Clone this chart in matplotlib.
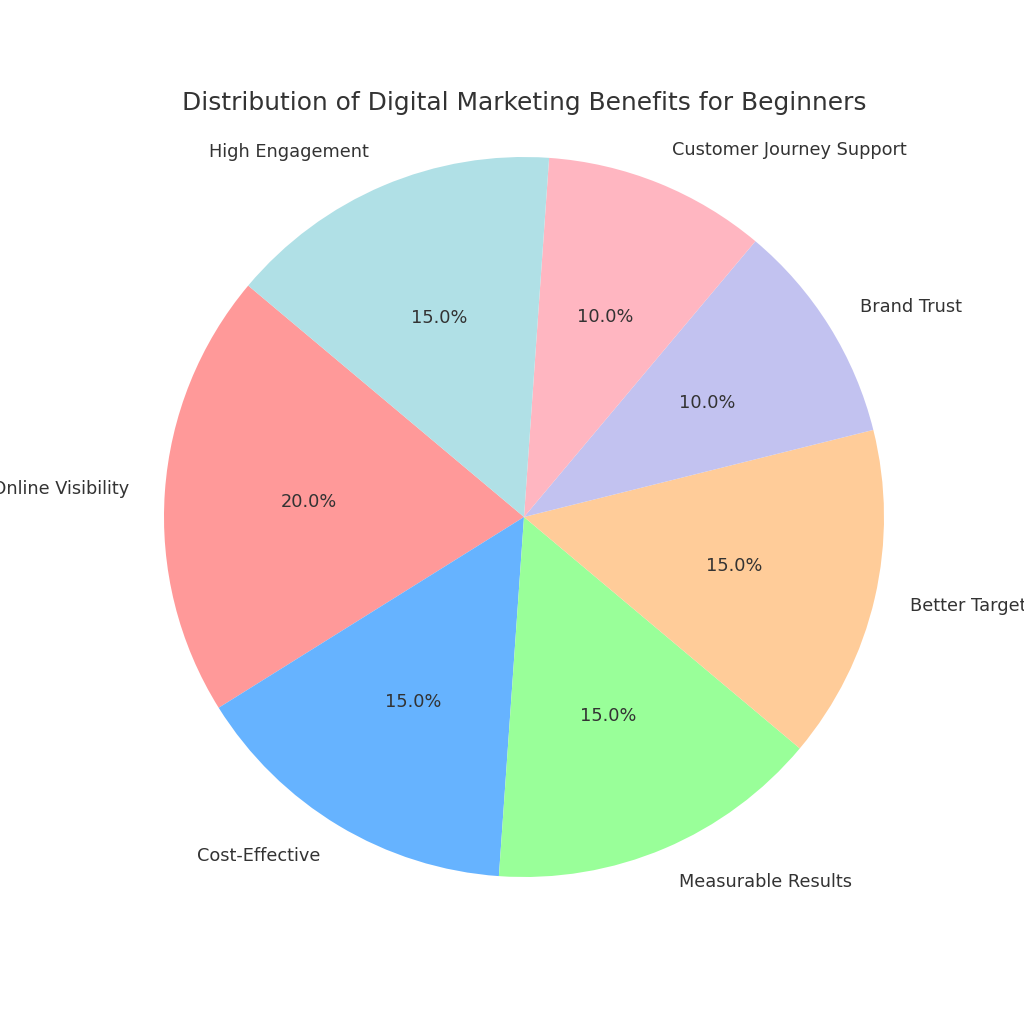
import matplotlib
matplotlib.use('Agg')
import matplotlib.pyplot as plt

# data
labels = ['Increased Online Visibility', 'Cost-Effective', 'Measurable Results',
          'Better Targeting', 'Brand Trust', 'Customer Journey Support',
          'High Engagement']
shares = [20, 15, 15, 15, 10, 10, 15]
colors = ['#ff9999', '#66b3ff', '#99ff99', '#ffcc99', '#c2c2f0', '#ffb6c1', '#b0e0e6']

plt.rcParams['font.family'] = ['DejaVu Sans']
plt.rcParams['text.color'] = '#333333'

fig = plt.figure(figsize=(8, 8), dpi=128)
ax = fig.add_axes([74 / 1024, 57 / 1024, 900 / 1024, 900 / 1024])

ax.pie(shares, labels=labels, colors=colors, autopct='%1.1f%%',
       startangle=140, labeldistance=1.1, pctdistance=0.6,
       textprops={'fontsize': 10, 'color': '#333333'})
ax.set_xlim(-1.25, 1.25)
ax.set_ylim(-1.25, 1.25)
ax.set_aspect('equal')

fig.text(524 / 1024, 1 - 103 / 1024, 'Distribution of Digital Marketing Benefits for Beginners',
         ha='center', va='center', fontsize=14, color='#333333')

fig.savefig('out.png', dpi=128)
